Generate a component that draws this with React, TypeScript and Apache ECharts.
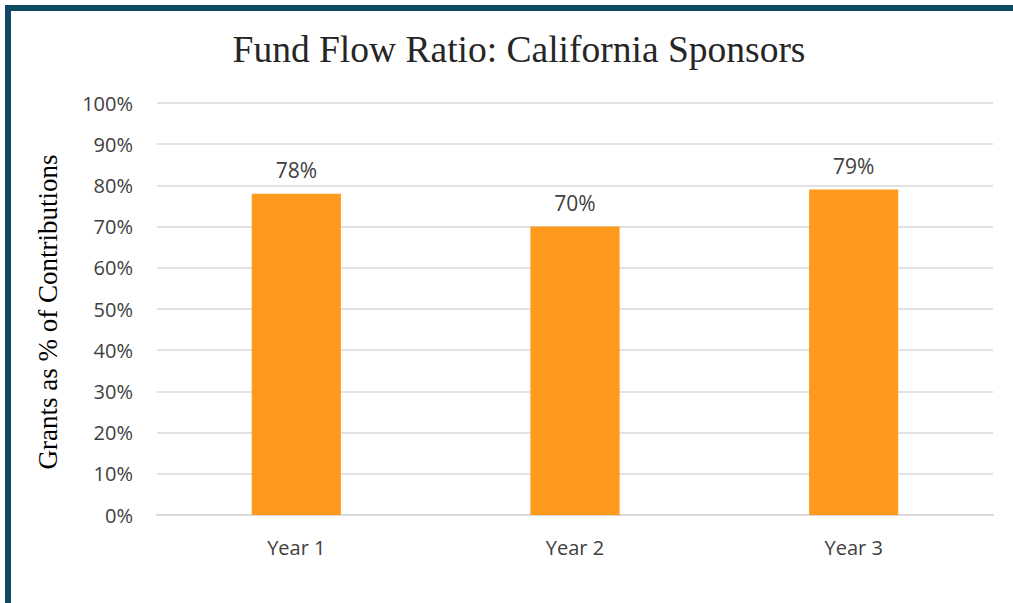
import React, { useEffect, useRef } from "react";
import * as echarts from "echarts";

const categories = ["Year 1", "Year 2", "Year 3"];
const values = [78, 70, 79];
const title = "Fund Flow Ratio: California Sponsors";
const yAxisName = "Grants as % of Contributions";

export default function App() {
  const ref = useRef<HTMLDivElement>(null);
  useEffect(() => {
    const chart = echarts.init(ref.current!, null, { renderer: "svg" });
    chart.setOption({
      animation: false,
      backgroundColor: "#ffffff",
      title: {
        text: title,
        left: 514,
        textAlign: "center",
        top: 25,
        textStyle: {
          fontFamily: "Liberation Serif",
          fontSize: 37.5,
          fontWeight: "normal",
          color: "#262626",
        },
      },
      graphic: [
        { type: "rect", shape: { x: 5, y: 5, width: 1008, height: 6 }, style: { fill: "#0e4a66" } },
        { type: "rect", shape: { x: 5, y: 5, width: 6, height: 598 }, style: { fill: "#0e4a66" } },
        {
          type: "text",
          x: 48,
          y: 312,
          rotation: Math.PI / 2,
          style: {
            text: yAxisName,
            fontFamily: "Liberation Serif",
            fontSize: 27,
            fill: "#000000",
            textAlign: "center",
            textVerticalAlign: "middle",
          },
        },
      ],
      grid: { left: 157, right: 20, top: 103, bottom: 88 },
      xAxis: {
        type: "category",
        data: categories,
        axisLine: { lineStyle: { color: "#d9d9d9", width: 2 } },
        axisTick: { show: false },
        axisLabel: {
          margin: 22,
          fontFamily: "Open Sans",
          fontSize: 20,
          color: "#404040",
        },
      },
      yAxis: {
        type: "value",
        min: 0,
        max: 100,
        interval: 10,
        axisLine: { show: false },
        axisTick: { show: false },
        splitLine: { lineStyle: { color: "#d9d9d9", width: 1.5 } },
        axisLabel: {
          formatter: "{value}%",
          margin: 24,
          fontFamily: "Open Sans",
          fontSize: 20,
          color: "#404040",
        },
      },
      series: [
        {
          type: "bar",
          data: values,
          barWidth: "32%",
          itemStyle: { color: "#ff9a1e" },
          label: {
            show: true,
            position: "top",
            distance: 13,
            formatter: "{c}%",
            fontFamily: "Open Sans",
            fontSize: 21,
            color: "#404040",
          },
        },
      ],
    });
    return () => chart.dispose();
  }, []);
  return (
    <div
      ref={ref}
      style={{ position: "absolute", left: 0, top: 0, width: 1013, height: 603 }}
    />
  );
}
